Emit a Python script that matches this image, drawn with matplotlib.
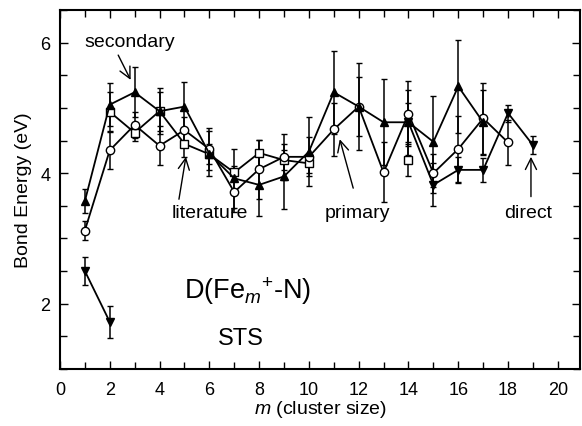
import numpy as np
import matplotlib.pyplot as plt
from matplotlib.ticker import MultipleLocator

plt.rcParams['font.family'] = ['Liberation Sans', 'DejaVu Sans']
plt.rcParams['mathtext.fontset'] = 'custom'
plt.rcParams['mathtext.rm'] = 'Liberation Sans'
plt.rcParams['mathtext.it'] = 'Liberation Sans:italic'

# cluster sizes and bond energies (eV)
sec_m = np.arange(1, 18)
sec_e = [3.57, 5.05, 5.24, 4.95, 5.02, 4.30, 3.92, 3.82, 3.95, 4.33, 5.24, 5.02, 4.78, 4.78, 4.48, 5.33, 4.78]
sec_err = [0.18, 0.33, 0.38, 0.30, 0.38, 0.35, 0.45, 0.47, 0.50, 0.53, 0.64, 0.67, 0.66, 0.50, 0.70, 0.71, 0.50]

pri_m = np.arange(1, 19)
pri_e = [3.12, 4.35, 4.74, 4.42, 4.66, 4.37, 3.71, 4.06, 4.25, 4.25, 4.67, 5.02, 4.01, 4.91, 4.00, 4.37, 4.84, 4.47]
pri_err = [0.15, 0.28, 0.20, 0.30, 0.20, 0.32, 0.30, 0.45, 0.35, 0.30, 0.40, 0.45, 0.46, 0.50, 0.30, 0.50, 0.54, 0.34]

lit_m = np.arange(2, 15)
lit_e = [4.94, 4.62, 4.95, 4.45, 4.29, 4.01, 4.31, 4.20, 4.15, np.nan, np.nan, np.nan, 4.20]
lit_err = [0.30, 0.13, 0.35, 0.20, 0.15, 0.10, 0.20, 0.15, 0.15, np.nan, np.nan, np.nan, 0.25]

dir_m = [1, 2, 3, 14, 15, 16, 17, 18, 19]
dir_e = [2.50, 1.72, np.nan, 4.78, 3.82, 4.05, 4.05, 4.92, 4.43]
dir_err = [0.22, 0.25, np.nan, 0.30, 0.33, 0.20, 0.18, 0.13, 0.14]

fig = plt.figure(figsize=(5.82, 4.27), dpi=100)
ax = fig.add_axes([0.103, 0.134, 0.894, 0.84])

kw = dict(color='black', lw=1.3, elinewidth=1.1, capsize=2.5, capthick=1.0, ms=6)
ax.errorbar(lit_m, lit_e, yerr=lit_err, fmt='-s', mfc='white', mec='black', **kw)
ax.errorbar(pri_m, pri_e, yerr=pri_err, fmt='-o', mfc='white', mec='black', **kw)
ax.errorbar(sec_m, sec_e, yerr=sec_err, fmt='-^', mfc='black', **kw)
ax.errorbar(dir_m, dir_e, yerr=dir_err, fmt='-v', mfc='black', **kw)

ax.set_xlim(0, 20.9)
ax.set_ylim(1, 6.5)
ax.xaxis.set_major_locator(MultipleLocator(2))
ax.xaxis.set_minor_locator(MultipleLocator(1))
ax.yaxis.set_major_locator(MultipleLocator(2))
ax.yaxis.set_minor_locator(MultipleLocator(0.5))
ax.tick_params(which='both', direction='in', top=True, right=True, labelsize=13, width=1.0)
ax.tick_params(which='major', length=6)
ax.tick_params(which='minor', length=5)
ax.tick_params(axis='x', pad=9)
ax.tick_params(axis='y', pad=7)
for s in ax.spines.values():
    s.set_linewidth(1.5)

ax.set_xlabel('$m$ (cluster size)', fontsize=14, labelpad=0)
ax.set_ylabel('Bond Energy (eV)', fontsize=14, labelpad=6)

# labels and their arrows
ap = dict(arrowstyle='->, head_length=0.5, head_width=0.25', color='black', lw=1.0,
          mutation_scale=16, shrinkA=0, shrinkB=0)
ax.text(2.8, 6.02, 'secondary', fontsize=14, ha='center', va='center')
ax.annotate('', xy=(2.84, 5.43), xytext=(2.34, 5.81), arrowprops=ap)
ax.text(6.0, 3.39, 'literature', fontsize=14, ha='center', va='center')
ax.annotate('', xy=(5.06, 4.25), xytext=(4.78, 3.6), arrowprops=ap)
ax.text(11.95, 3.39, 'primary', fontsize=14, ha='center', va='center')
ax.annotate('', xy=(11.24, 4.52), xytext=(11.78, 3.77), arrowprops=ap)
ax.text(18.8, 3.39, 'direct', fontsize=14, ha='center', va='center')
ax.annotate('', xy=(18.92, 4.25), xytext=(18.92, 3.64), arrowprops=ap)

ax.text(5.0, 2.2, 'D(Fe$_{m}$$^{+}$-N)', fontsize=19.5, ha='left', va='center')
ax.text(7.27, 1.47, 'STS', fontsize=17, ha='center', va='center')

fig.savefig('out.png', dpi=100)
